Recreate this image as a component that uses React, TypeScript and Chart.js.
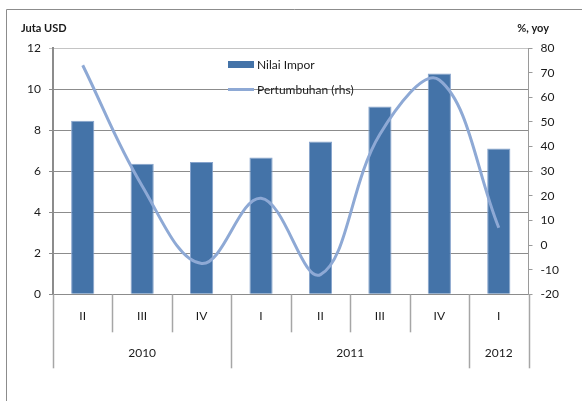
import React, { useEffect, useRef } from 'react';
import { Chart, registerables } from 'chart.js';

Chart.register(...registerables);

const quarters = ['II', 'III', 'IV', 'I', 'II', 'III', 'IV', 'I'];
const years = ['2010', '2011', '2012'];
const yearSpans = [3, 4, 1];
const importValues = [8.45, 6.36, 6.45, 6.66, 7.44, 9.15, 10.76, 7.1];
const growthValues = [73, 24, -7.5, 19, -12, 45, 67, 7];
const leftTitle = 'Juta USD';
const rightTitle = '%, yoy';
const barLabel = 'Nilai Impor';
const lineLabel = 'Pertumbuhan (rhs)';

const BAR_COLOR = '#4473A8';
const LINE_COLOR = '#8EA9D5';
const FONT = 'Lato, "DejaVu Sans", sans-serif';

const overlayPlugin = {
  id: 'overlay',
  afterDraw(chart: any) {
    const ctx = chart.ctx as CanvasRenderingContext2D;
    const area = chart.chartArea;
    const xs = chart.scales.x;
    const n = quarters.length;
    ctx.save();

    // outer frame
    ctx.strokeStyle = '#8c8c8c';
    ctx.lineWidth = 1;
    ctx.beginPath();
    ctx.moveTo(6.5, 401);
    ctx.lineTo(6.5, 9.5);
    ctx.lineTo(582, 9.5);
    ctx.stroke();

    // category boundaries
    const bounds: number[] = [];
    for (let i = 0; i <= n; i++) {
      if (i === 0) bounds.push(area.left);
      else if (i === n) bounds.push(area.right);
      else bounds.push((xs.getPixelForValue(i - 1) + xs.getPixelForValue(i)) / 2);
    }
    const yearBounds = new Set<number>([0]);
    let acc = 0;
    yearSpans.forEach((s) => { acc += s; yearBounds.add(acc); });

    ctx.strokeStyle = '#a6a6a6';
    ctx.lineWidth = 1.5;
    bounds.forEach((bx, i) => {
      const isYear = yearBounds.has(i);
      ctx.beginPath();
      ctx.moveTo(Math.round(bx) + 0.5, area.bottom);
      ctx.lineTo(Math.round(bx) + 0.5, area.bottom + (isYear ? 74 : 38));
      ctx.stroke();
    });

    ctx.fillStyle = '#1a1a1a';
    ctx.font = `12px ${FONT}`;
    ctx.textAlign = 'center';
    ctx.textBaseline = 'middle';
    quarters.forEach((q, i) => {
      ctx.fillText(q, xs.getPixelForValue(i), area.bottom + 22);
    });
    let start = 0;
    years.forEach((y, k) => {
      const end = start + yearSpans[k];
      const cx = (bounds[start] + bounds[end]) / 2;
      ctx.fillText(y, cx, area.bottom + 59);
      start = end;
    });

    // axis titles
    ctx.font = `bold 11px ${FONT}`;
    ctx.textAlign = 'left';
    ctx.fillText(leftTitle, 21, 28);
    ctx.textAlign = 'right';
    ctx.fillText(rightTitle, 549, 28);

    // legend
    ctx.fillStyle = BAR_COLOR;
    ctx.fillRect(228, 61, 26, 7);
    ctx.strokeStyle = LINE_COLOR;
    ctx.lineWidth = 3;
    ctx.beginPath();
    ctx.moveTo(228, 89.5);
    ctx.lineTo(254, 89.5);
    ctx.stroke();
    ctx.fillStyle = '#1a1a1a';
    ctx.font = `12px ${FONT}`;
    ctx.textAlign = 'left';
    ctx.fillText(barLabel, 257, 65);
    ctx.fillText(lineLabel, 257, 90);

    ctx.restore();
  },
};

export default function App() {
  const canvasRef = useRef<HTMLCanvasElement | null>(null);

  useEffect(() => {
    const canvas = canvasRef.current;
    if (!canvas) return;
    const chart = new Chart(canvas, {
      type: 'bar',
      data: {
        labels: quarters,
        datasets: [
          {
            type: 'line',
            label: lineLabel,
            data: growthValues,
            yAxisID: 'y1',
            borderColor: LINE_COLOR,
            borderWidth: 3,
            pointRadius: 0,
            tension: 0.38,
            fill: false,
            order: 0,
          } as any,
          {
            type: 'bar',
            label: barLabel,
            data: importValues,
            yAxisID: 'y',
            backgroundColor: BAR_COLOR,
            borderColor: '#86A3CC',
            borderWidth: 1,
            barPercentage: 0.39,
            categoryPercentage: 1,
            order: 1,
          } as any,
        ],
      },
      options: {
        responsive: false,
        animation: false,
        devicePixelRatio: 1,
        layout: { padding: { top: 48, left: 0, right: 0, bottom: 0 } },
        plugins: {
          legend: { display: false },
          tooltip: { enabled: false },
        },
        scales: {
          x: {
            offset: true,
            ticks: { display: false },
            grid: { display: false },
            border: { display: false },
            afterFit: (s: any) => { s.height = 106.7; },
          },
          y: {
            position: 'left',
            min: 0,
            max: 12,
            ticks: {
              stepSize: 2,
              color: '#1a1a1a',
              font: { family: FONT, size: 12 },
              padding: 8,
            },
            grid: {
              color: (c: any) => (c.tick && c.tick.value === 12 ? '#c4c4c4' : '#8c8c8c'),
              lineWidth: 1,
              tickLength: 4,
            },
            border: { display: true, color: '#8c8c8c', width: 2 },
            afterFit: (s: any) => { s.width = 53; },
          },
          y1: {
            position: 'right',
            min: -20,
            max: 80,
            ticks: {
              stepSize: 10,
              color: '#1a1a1a',
              font: { family: FONT, size: 12 },
              padding: 8,
            },
            grid: {
              drawOnChartArea: false,
              color: '#9a9a9a',
              tickLength: 4,
            },
            border: { display: true, color: '#9a9a9a', width: 1 },
            afterFit: (s: any) => { s.width = 53.5; },
          },
        },
      } as any,
      plugins: [overlayPlugin],
    });
    return () => chart.destroy();
  }, []);

  return (
    <div style={{ position: 'fixed', left: 0, top: 0, width: 582, height: 401, background: '#fff' }}>
      <canvas ref={canvasRef} width={582} height={401} style={{ display: 'block', width: 582, height: 401 }} />
    </div>
  );
}
